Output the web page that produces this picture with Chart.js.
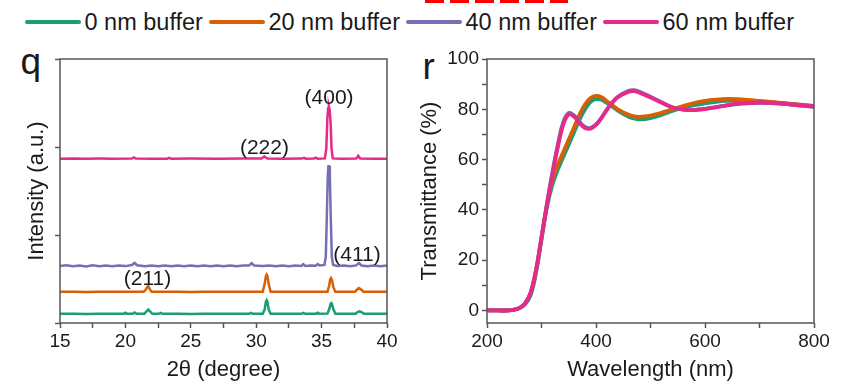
<!DOCTYPE html>
<html>
<head>
<meta charset="utf-8">
<script src="https://cdn.jsdelivr.net/npm/chart.js@4.4.1/dist/chart.umd.min.js"></script>
<style>
  body { margin: 0; width: 843px; height: 382px; background: #fff; overflow: hidden; position: relative;
         font-family: "Liberation Sans", Arial, sans-serif; color: #1a1a1a; }
  canvas { position: absolute; }
  #xrd { left: 0; top: 40px; }
  #trans { left: 410px; top: 40px; }
  .legend { position: absolute; left: 25px; top: 8px; height: 28px; display: flex; align-items: center; font-size: 23.5px; }
  .legend .swatch { width: 56px; height: 4px; border-radius: 2px; margin-right: 3.5px; }
  .legend .label { margin-right: 6px; white-space: nowrap; }
  .panel { position: absolute; font-size: 37px; line-height: 37px; }
  .redmark { position: absolute; left: 425px; top: 0; width: 143px; height: 3px;
             background: repeating-linear-gradient(90deg, #ff0000 0 19px, transparent 19px 25px); }
</style>
</head>
<body>
<div class="redmark"></div>
<div class="legend" id="legend"></div>
<div class="panel" style="left:20.5px; top:42.5px;">q</div>
<div class="panel" style="left:422.5px; top:48px;">r</div>
<canvas id="xrd" width="410" height="342"></canvas>
<canvas id="trans" width="433" height="342"></canvas>
<script>
// series names + colours
const seriesNames = ['0 nm buffer', '20 nm buffer', '40 nm buffer', '60 nm buffer'];
const seriesColors = ['#1b9e77', '#d95f02', '#7570b3', '#e7298a'];

// ===== XRD (panel q), stacked by offset, arbitrary units =====
const theta0 = [15, 16, 17, 18, 19, 19.85, 20.0, 20.15, 20.55, 20.7, 20.85, 21.45, 21.6, 21.75, 21.9, 22.05, 22.55, 22.7, 22.85, 24, 25, 26, 27, 28, 29.45, 29.6, 29.75, 30.5, 30.65, 30.74, 30.8, 30.86, 30.95, 31.1, 32, 33.45, 33.6, 33.75, 34.55, 34.7, 34.85, 35.45, 35.6, 35.68, 35.74, 35.8, 35.9, 36.05, 37, 37.6, 37.75, 37.9, 38.05, 38.25, 39, 39.5, 40];
const int0 = [8, 10, 7, 9, 8, 8, 20, 8, 9, 24, 9, 9, 35, 58, 35, 9, 8, 18, 8, 9, 7, 9, 8, 9, 8, 18, 8, 9, 60, 150, 168, 150, 60, 9, 8, 8, 18, 8, 8, 20, 8, 10, 70, 125, 135, 120, 60, 10, 9, 10, 28, 38, 28, 9, 8, 10, 8];

const theta20 = [15, 16, 17, 18, 19, 20, 21, 21.4, 21.55, 21.67, 21.75, 21.85, 22.0, 23, 24, 25, 26, 27, 28, 29, 30, 30.5, 30.65, 30.74, 30.8, 30.86, 30.95, 31.1, 32, 33, 34, 35, 35.45, 35.58, 35.66, 35.72, 35.8, 35.9, 36.05, 37, 37.55, 37.7, 37.85, 38.0, 38.2, 39, 40];
const int20 = [266, 268, 265, 267, 266, 268, 266, 267, 290, 325, 332, 300, 268, 266, 267, 265, 267, 266, 268, 266, 267, 268, 360, 450, 468, 450, 360, 268, 266, 267, 266, 268, 268, 340, 415, 428, 400, 320, 268, 266, 268, 290, 310, 295, 268, 266, 266];

const theta40 = [15, 15.5, 16, 16.5, 17, 17.5, 18, 18.5, 19, 19.5, 20, 20.5, 20.7, 20.9, 21.5, 22, 22.5, 23, 23.5, 24, 24.5, 25, 25.5, 26, 26.5, 27, 27.5, 28, 28.5, 29, 29.45, 29.65, 29.85, 30.5, 31, 31.5, 32, 32.5, 33, 33.45, 33.6, 33.75, 34.2, 34.55, 34.7, 34.85, 35.22, 35.32, 35.4, 35.47, 35.52, 35.58, 35.63, 35.7, 35.78, 35.88, 36.2, 36.7, 37.2, 37.65, 37.85, 38.05, 38.5, 39, 39.5, 40];
const int40 = [570, 578, 566, 576, 565, 577, 567, 576, 566, 575, 568, 580, 605, 578, 567, 576, 566, 575, 567, 576, 566, 575, 567, 576, 566, 575, 567, 576, 566, 575, 575, 602, 575, 568, 576, 566, 575, 567, 576, 570, 590, 570, 575, 572, 592, 575, 582, 680, 1150, 1620, 1740, 1740, 1620, 1150, 680, 582, 570, 576, 567, 576, 605, 575, 567, 576, 566, 574];

const theta60 = [15, 16, 17, 18, 19, 20.5, 20.65, 20.8, 22, 23.2, 23.35, 23.5, 25, 27, 29, 30.4, 30.62, 30.85, 32, 33.5, 33.65, 33.8, 34.4, 34.55, 34.7, 35.25, 35.36, 35.44, 35.5, 35.56, 35.62, 35.69, 35.76, 35.85, 36.5, 37.65, 37.8, 37.95, 39, 40];
const int60 = [1830, 1832, 1829, 1831, 1830, 1831, 1845, 1831, 1830, 1830, 1840, 1830, 1831, 1829, 1831, 1832, 1855, 1832, 1830, 1831, 1840, 1830, 1831, 1842, 1830, 1833, 1950, 2300, 2420, 2440, 2400, 2250, 1950, 1833, 1830, 1832, 1862, 1832, 1830, 1830];

const xrdTheta = [theta0, theta20, theta40, theta60];
const xrdInt = [int0, int20, int40, int60];

// peak indexing labels, anchored in data units
const hklText = ['(400)', '(222)', '(411)', '(211)'];
const hklTheta = [35.57, 30.63, 37.71, 21.69];
const hklInt = [2541, 1955, 698, 417];

// ===== Transmittance (panel r) =====
const wavelength = [200, 220, 240, 250, 260, 270, 280, 290, 300, 310, 320, 330, 340, 350, 360, 370, 380, 390, 400, 410, 420, 430, 440, 460, 470, 480, 500, 520, 540, 560, 580, 600, 620, 640, 660, 680, 700, 720, 740, 760, 780, 800];
const trans0 = [0, 0, 0, 0.3, 1, 2.5, 6, 15, 28, 41, 50, 56, 61, 66, 71, 76, 80, 83, 84, 83.8, 82.5, 81, 79.5, 77, 76.3, 76, 76.5, 77.8, 79.3, 80.6, 81.6, 82.4, 83, 83.4, 83.5, 83.4, 83.1, 82.8, 82.4, 82, 81.6, 81.2];
const trans20 = [0, 0, 0, 0.3, 1, 2.8, 7, 16, 29, 42, 52, 58, 63, 68, 73, 78, 82, 84.5, 85.3, 84.8, 83.2, 81.6, 80, 77.8, 77.2, 77, 77.5, 78.6, 80, 81.3, 82.5, 83.3, 83.8, 84.1, 84, 83.7, 83.3, 82.9, 82.5, 82.1, 81.7, 81.3];
const trans40 = [0, 0, 0, 0.3, 1, 2.8, 7, 16, 29, 42.5, 55, 66, 75, 78.6, 77.5, 75, 73, 72.6, 74, 76.6, 80, 82.8, 85, 87.4, 87.6, 87, 85, 82.8, 80.8, 79.9, 79.8, 80.2, 80.9, 81.6, 82.1, 82.4, 82.6, 82.5, 82.2, 81.8, 81.4, 81];
const trans60 = [0, 0, 0, 0.3, 1, 2.8, 7, 16, 29, 42, 54, 65, 74, 78, 77, 74.5, 72.5, 72.3, 73.8, 76.5, 79.8, 82.6, 84.8, 87, 87.2, 86.6, 84.7, 82.7, 80.8, 79.9, 79.7, 80.1, 80.8, 81.6, 82.2, 82.5, 82.7, 82.6, 82.3, 81.9, 81.5, 81.1];
const transSeries = [trans0, trans20, trans40, trans60];

Chart.defaults.font.family = '"Liberation Sans", Arial, sans-serif';
Chart.defaults.color = '#1a1a1a';

// HTML legend shared by both panels
const legend = document.getElementById('legend');
seriesNames.forEach((name, i) => {
  const sw = document.createElement('span');
  sw.className = 'swatch';
  sw.style.background = seriesColors[i];
  const lb = document.createElement('span');
  lb.className = 'label';
  lb.textContent = name;
  legend.append(sw, lb);
});

// closed box round the plot area
const framePlugin = {
  id: 'frame',
  afterDatasetsDraw(chart) {
    const { ctx, chartArea: a } = chart;
    ctx.save();
    ctx.strokeStyle = '#555';
    ctx.lineWidth = 1.5;
    ctx.strokeRect(a.left, a.top, a.right - a.left, a.bottom - a.top);
    ctx.restore();
  }
};

const hklPlugin = {
  id: 'hkl',
  afterDatasetsDraw(chart) {
    const { ctx, scales: { x, y } } = chart;
    ctx.save();
    ctx.font = '21px "Liberation Sans", Arial, sans-serif';
    ctx.fillStyle = '#1a1a1a';
    ctx.textAlign = 'center';
    ctx.textBaseline = 'middle';
    hklText.forEach((t, i) => ctx.fillText(t, x.getPixelForValue(hklTheta[i]), y.getPixelForValue(hklInt[i])));
    ctx.restore();
  }
};

const tickGrid = { display: true, drawOnChartArea: false, drawTicks: true, tickLength: 5, tickWidth: 1.5, tickColor: '#555' };
const titleFont = { size: 22, lineHeight: 1.1 };
const tickFont = { size: 19 };

// later series drawn on top (60 nm over 40 nm, 20 nm over 0 nm)
const drawOrder = i => seriesNames.length - i;

new Chart(document.getElementById('xrd'), {
  type: 'line',
  data: {
    datasets: xrdTheta.map((th, i) => ({
      label: seriesNames[i],
      data: th.map((t, k) => ({ x: t, y: xrdInt[i][k] })),
      borderColor: seriesColors[i],
      borderWidth: 2.5,
      pointRadius: 0,
      tension: 0,
      order: drawOrder(i)
    }))
  },
  options: {
    responsive: false,
    animation: false,
    layout: { padding: { top: 19, right: 23, left: 0, bottom: 0 } },
    plugins: { legend: { display: false }, tooltip: { enabled: false } },
    scales: {
      x: {
        type: 'linear', min: 15, max: 40,
        border: { display: false },
        grid: tickGrid,
        ticks: { stepSize: 2.5, padding: 2, font: tickFont, maxRotation: 0, autoSkip: false,
                 callback: v => (v % 5 === 0 ? v : '') },
        title: { display: true, text: '2θ (degree)', font: titleFont, padding: { top: 0, bottom: 0 } },
        afterFit: s => { s.height = 59; }
      },
      y: {
        type: 'linear', min: -100, max: 3000,
        border: { display: false },
        grid: tickGrid,
        ticks: { stepSize: 1000, includeBounds: false, callback: () => '' },
        title: { display: true, text: 'Intensity (a.u.)', font: titleFont, padding: { top: 25, bottom: 0 } },
        afterFit: s => { s.width = 60; }
      }
    }
  },
  plugins: [framePlugin, hklPlugin]
});

new Chart(document.getElementById('trans'), {
  type: 'line',
  data: {
    datasets: transSeries.map((vals, i) => ({
      label: seriesNames[i],
      data: wavelength.map((w, k) => ({ x: w, y: vals[k] })),
      borderColor: seriesColors[i],
      borderWidth: 3.8,
      pointRadius: 0,
      tension: 0.4,
      order: drawOrder(i)
    }))
  },
  options: {
    responsive: false,
    animation: false,
    layout: { padding: { top: 19, right: 29, left: 0, bottom: 0 } },
    plugins: { legend: { display: false }, tooltip: { enabled: false } },
    scales: {
      x: {
        type: 'linear', min: 200, max: 800,
        border: { display: false },
        grid: tickGrid,
        ticks: { stepSize: 100, padding: 2, font: tickFont, maxRotation: 0, autoSkip: false,
                 callback: v => (v % 200 === 0 ? v : '') },
        title: { display: true, text: 'Wavelength (nm)', font: titleFont, padding: { top: 0, bottom: 0 } },
        afterFit: s => { s.height = 59; }
      },
      y: {
        type: 'linear', min: -5, max: 100,
        border: { display: false },
        grid: tickGrid,
        ticks: { stepSize: 10, includeBounds: false, padding: 3, font: tickFont, autoSkip: false,
                 callback: v => (v % 20 === 0 ? v : '') },
        title: { display: true, text: 'Transmittance (%)', font: titleFont, padding: { top: 7.5, bottom: 0 } },
        afterFit: s => { s.width = 77; }
      }
    }
  },
  plugins: [framePlugin]
});
</script>
</body>
</html>
